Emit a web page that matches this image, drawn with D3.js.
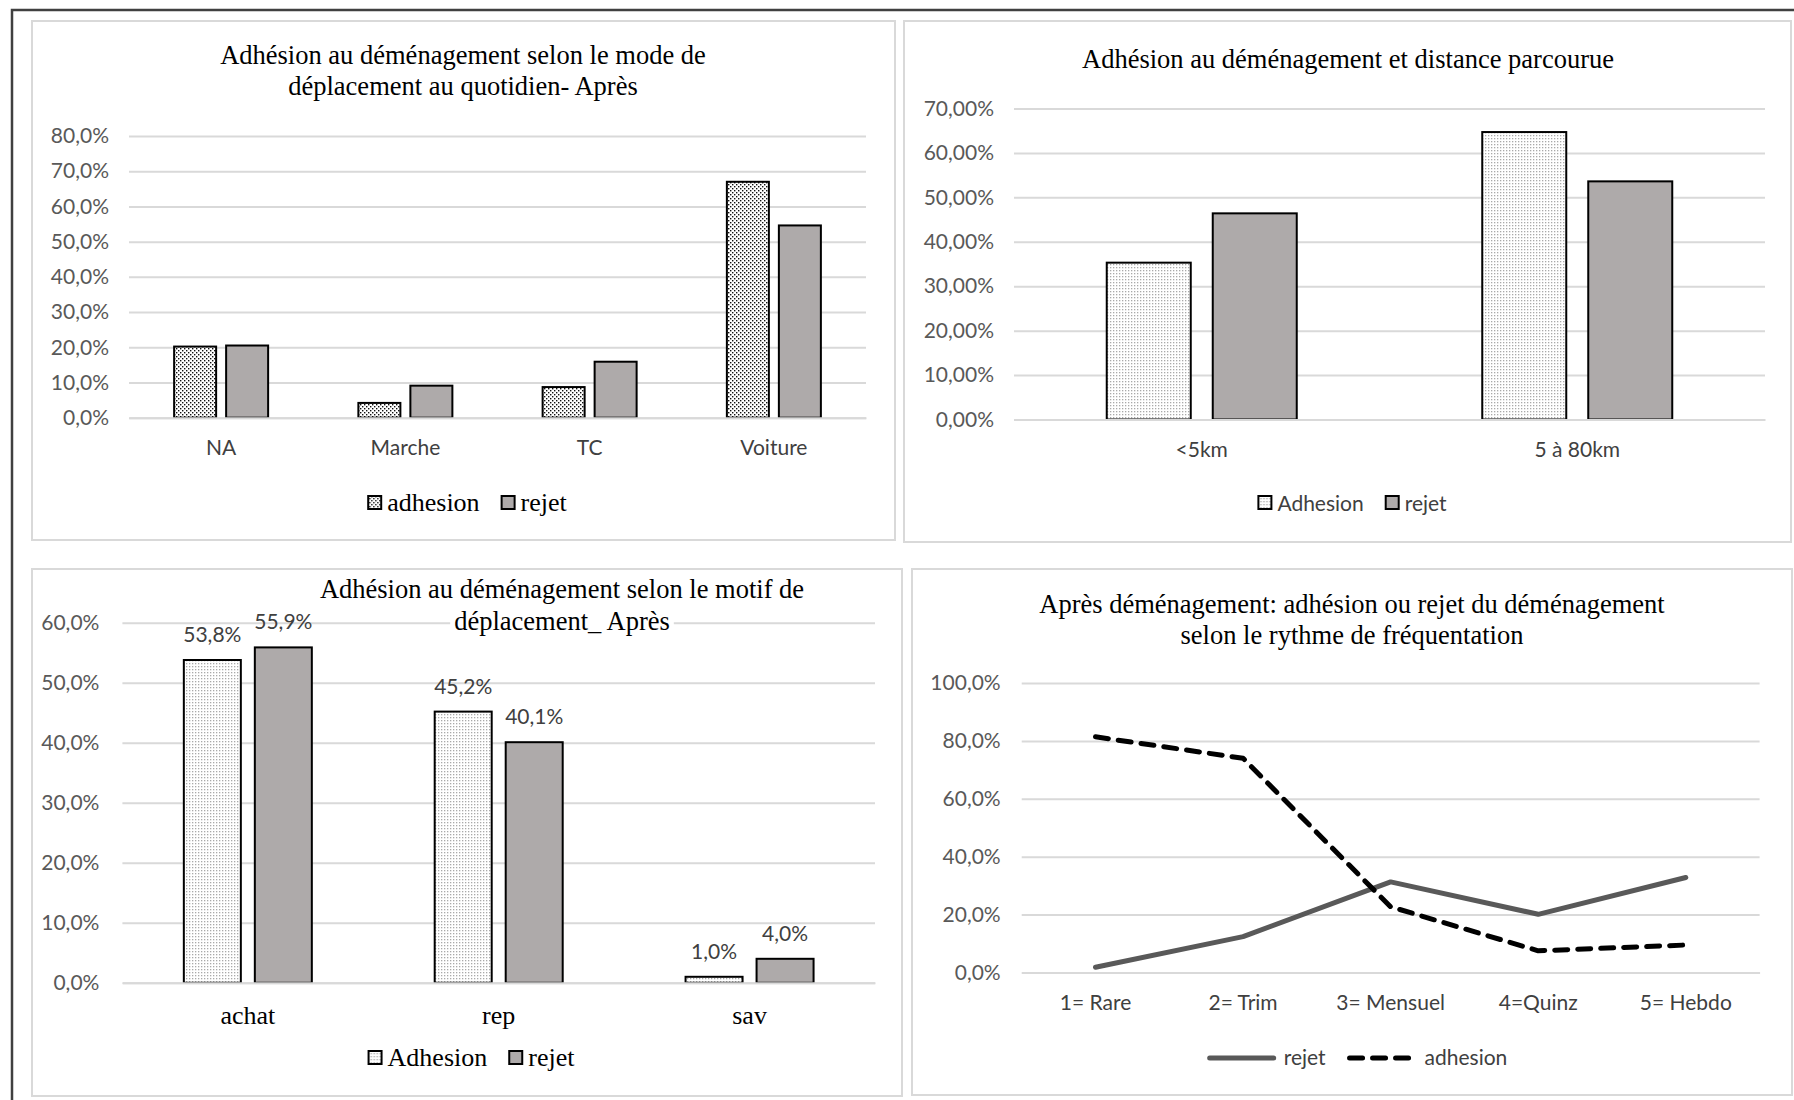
<!DOCTYPE html>
<html>
<head>
<meta charset="utf-8">
<script src="https://cdn.jsdelivr.net/npm/d3@7"></script>
<style>
  body { margin: 0; background: #fff; }
  svg text { font-family: Lato, "Liberation Sans", sans-serif; }
  svg text.serif { font-family: "Liberation Serif", "Times New Roman", serif; }
</style>
</head>
<body>
<svg width="1794" height="1100"></svg>
<script>
// --- data ---
const modes = ["NA", "Marche", "TC", "Voiture"];
const modeAdhesion = [20.2, 4.2, 8.7, 67.0];
const modeRejet = [20.5, 9.1, 15.9, 54.6];
const modeTicks = [0, 10, 20, 30, 40, 50, 60, 70, 80];

const distances = ["<5km", "5 à 80km"];
const distAdhesion = [35.3, 64.7];
const distRejet = [46.4, 53.6];
const distTicks = [0, 10, 20, 30, 40, 50, 60, 70];

const motifs = ["achat", "rep", "sav"];
const motifAdhesion = [53.8, 45.2, 1.0];
const motifRejet = [55.9, 40.1, 4.0];
const motifTicks = [0, 10, 20, 30, 40, 50, 60];

const rythmes = ["1= Rare", "2= Trim", "3= Mensuel", "4=Quinz", "5= Hebdo"];
const rythmeRejet = [1.8, 12.4, 31.3, 20.1, 32.8];
const rythmeAdhesion = [81.4, 74.0, 22.7, 7.5, 9.5];
const rythmeTicks = [0, 20, 40, 60, 80, 100];

const svg = d3.select("svg");
const defs = svg.append("defs");

// dotted fills used by Excel
const dark = defs.append("pattern").attr("id", "dotsDark")
  .attr("patternUnits", "userSpaceOnUse").attr("width", 4).attr("height", 4);
dark.append("rect").attr("width", 4).attr("height", 4).attr("fill", "#fff");
dark.append("rect").attr("width", 1.4).attr("height", 1.4).attr("fill", "#111");
dark.append("rect").attr("x", 2).attr("y", 2).attr("width", 1.4).attr("height", 1.4).attr("fill", "#111");

const light = defs.append("pattern").attr("id", "dotsLight")
  .attr("patternUnits", "userSpaceOnUse").attr("width", 3).attr("height", 3);
light.append("rect").attr("width", 3).attr("height", 3).attr("fill", "#fff");
light.append("rect").attr("width", 1.3).attr("height", 1.3).attr("fill", "#a9a9a9");

const pct1 = d => d3.format(".1f")(d).replace(".", ",") + "%";
const pct2 = d => d3.format(".2f")(d).replace(".", ",") + "%";

// outer frame
svg.append("path").attr("d", "M12,1100V10H1794")
  .attr("fill", "none").attr("stroke", "#404040").attr("stroke-width", 2.5);

function panel(x0, y0, x1, y1) {
  svg.append("rect").attr("x", x0).attr("y", y0)
    .attr("width", x1 - x0).attr("height", y1 - y0)
    .attr("fill", "#fff").attr("stroke", "#d9d9d9").attr("stroke-width", 2);
}

// title is drawn last, over a white box, like Excel does
function title(lines, cx, baselines) {
  const g = svg.append("g");
  lines.forEach((t, i) => {
    const bg = g.append("rect").attr("fill", "#fff");
    const txt = g.append("text").attr("class", "serif")
      .attr("x", cx).attr("y", baselines[i])
      .attr("text-anchor", "middle").attr("font-size", 26.5).attr("fill", "#000")
      .text(t);
    const b = txt.node().getBBox();
    bg.attr("x", b.x - 4).attr("y", b.y).attr("width", b.width + 8).attr("height", b.height);
  });
}

function yAxis(g, y, ticks, fmt, x0, x1, pad) {
  const ax = g.append("g").attr("transform", `translate(${x0},0)`)
    .call(d3.axisLeft(y).tickValues(ticks).tickFormat(fmt)
      .tickSize(-(x1 - x0)).tickPadding(pad));
  ax.select(".domain").remove();
  ax.selectAll("line").attr("stroke", "#d9d9d9").attr("stroke-width", 2);
  ax.selectAll("text").attr("fill", "#595959").attr("font-size", 21)
    .attr("font-family", "Lato, 'Liberation Sans', sans-serif");
}

function xAxis(g, x, y0, labelY, serif) {
  const ax = g.append("g").attr("transform", `translate(0,${y0})`)
    .call(d3.axisBottom(x).tickSize(0));
  ax.select(".domain").attr("stroke", "#d9d9d9").attr("stroke-width", 2);
  ax.selectAll("text")
    .attr("y", labelY - y0).attr("dy", 0)
    .attr("font-size", serif ? 26 : 21)
    .attr("fill", serif ? "#000" : "#404040")
    .attr("class", serif ? "serif" : null)
    .attr("font-family", serif ? "'Liberation Serif', serif" : "Lato, 'Liberation Sans', sans-serif");
}

function legend(items, cx, baseline, serif) {
  const g = svg.append("g");
  let cur = 0;
  items.forEach(it => {
    if (it.kind === "box") {
      g.append("rect").attr("x", cur + 1).attr("y", baseline - 15)
        .attr("width", 13).attr("height", 13)
        .attr("fill", it.fill).attr("stroke", "#000").attr("stroke-width", 2);
      cur += 20;
    } else {
      g.append("line").attr("x1", cur + 3).attr("x2", cur + it.w - 3)
        .attr("y1", baseline - 7).attr("y2", baseline - 7)
        .attr("stroke", it.color).attr("stroke-width", 5)
        .attr("stroke-linecap", "round")
        .attr("stroke-dasharray", it.dash || null);
      cur += it.w + it.after;
    }
    const t = g.append("text").attr("x", cur).attr("y", baseline)
      .attr("font-size", serif ? 26 : 21)
      .attr("fill", serif ? "#000" : "#404040")
      .attr("class", serif ? "serif" : null)
      .text(it.name);
    cur += t.node().getComputedTextLength() + 21;
  });
  const w = cur - 21;
  g.attr("transform", `translate(${cx - w / 2},0)`);
}

function barChart(o) {
  const g = svg.append("g");
  const y = d3.scaleLinear().domain([0, o.ticks[o.ticks.length - 1]]).range([o.y0, o.yTop]);
  const x = d3.scaleBand().domain(o.cats).range([o.x0, o.x1]);
  const names = o.series.map(s => s.name);
  const inner = d3.scaleBand().domain(names)
    .range([-(o.barW + o.gap / 2), o.barW + o.gap / 2])
    .paddingInner(o.gap / (o.barW + o.gap));

  yAxis(g, y, o.ticks, o.fmt, o.x0, o.x1, o.pad);

  o.series.forEach(s => {
    const rows = o.cats.map((c, i) => ({ cat: c, v: s.values[i] }));
    g.selectAll(null).data(rows).enter().append("rect")
      .attr("x", d => x(d.cat) + x.bandwidth() / 2 + inner(s.name))
      .attr("width", inner.bandwidth())
      .attr("y", d => y(d.v))
      .attr("height", d => o.y0 - y(d.v))
      .attr("fill", s.fill).attr("stroke", "#000").attr("stroke-width", 2);
    if (o.labels) {
      g.selectAll(null).data(rows).enter().append("text")
        .attr("x", d => x(d.cat) + x.bandwidth() / 2 + inner(s.name) + inner.bandwidth() / 2)
        .attr("y", d => y(d.v) - 18)
        .attr("text-anchor", "middle").attr("font-size", 21).attr("fill", "#404040")
        .text(d => pct1(d.v));
    }
  });

  xAxis(g, x, o.y0, o.labelY, o.serifX);
}

// --- panel 1: mode de déplacement ---
panel(32, 21, 895, 540);
barChart({
  cats: modes, ticks: modeTicks, fmt: pct1,
  series: [{ name: "adhesion", values: modeAdhesion, fill: "url(#dotsDark)" },
           { name: "rejet", values: modeRejet, fill: "#aeaaaa" }],
  x0: 129, x1: 866, y0: 417.7, yTop: 136, pad: 20,
  barW: 42, gap: 10, labelY: 455.5, serifX: false
});
title(["Adhésion au déménagement selon le mode de", "déplacement au quotidien- Après"], 463, [64, 95]);
legend([{ kind: "box", name: "adhesion", fill: "url(#dotsDark)" },
        { kind: "box", name: "rejet", fill: "#aeaaaa" }], 467, 511, true);

// --- panel 2: distance parcourue ---
panel(904, 21, 1791, 542);
barChart({
  cats: distances, ticks: distTicks, fmt: pct2,
  series: [{ name: "Adhesion", values: distAdhesion, fill: "url(#dotsLight)" },
           { name: "rejet", values: distRejet, fill: "#aeaaaa" }],
  x0: 1014, x1: 1765, y0: 419.5, yTop: 108.5, pad: 20,
  barW: 84, gap: 22, labelY: 456.5, serifX: false
});
title(["Adhésion au déménagement et distance parcourue"], 1348, [67.5]);
legend([{ kind: "box", name: "Adhesion", fill: "url(#dotsLight)" },
        { kind: "box", name: "rejet", fill: "#aeaaaa" }], 1352, 511, false);

// --- panel 3: motif de déplacement ---
panel(32, 569, 902, 1096);
barChart({
  cats: motifs, ticks: motifTicks, fmt: pct1,
  series: [{ name: "Adhesion", values: motifAdhesion, fill: "url(#dotsLight)" },
           { name: "rejet", values: motifRejet, fill: "#aeaaaa" }],
  x0: 122.4, x1: 875, y0: 982.8, yTop: 622.8, pad: 23,
  barW: 57, gap: 14, labelY: 1024, serifX: true, labels: true
});
title(["Adhésion au déménagement selon le motif de", "déplacement_ Après"], 562, [598, 630]);
legend([{ kind: "box", name: "Adhesion", fill: "url(#dotsLight)" },
        { kind: "box", name: "rejet", fill: "#aeaaaa" }], 471, 1066, true);

// --- panel 4: rythme de fréquentation (lines) ---
panel(912, 569, 1792, 1095);
{
  const g = svg.append("g");
  const x0 = 1021.7, x1 = 1759.6, y0 = 972.5, yTop = 683;
  const y = d3.scaleLinear().domain([0, 100]).range([y0, yTop]);
  const x = d3.scaleBand().domain(rythmes).range([x0, x1]);
  yAxis(g, y, rythmeTicks, pct1, x0, x1, 21);
  xAxis(g, x, y0, 1010, false);
  const line = d3.line()
    .x(d => x(d.cat) + x.bandwidth() / 2)
    .y(d => y(d.v));
  const rows = vals => rythmes.map((c, i) => ({ cat: c, v: vals[i] }));
  g.append("path").datum(rows(rythmeRejet)).attr("d", line)
    .attr("fill", "none").attr("stroke", "#595959").attr("stroke-width", 5)
    .attr("stroke-linejoin", "round").attr("stroke-linecap", "round");
  g.append("path").datum(rows(rythmeAdhesion)).attr("d", line)
    .attr("fill", "none").attr("stroke", "#000").attr("stroke-width", 5)
    .attr("stroke-dasharray", "13,10")
    .attr("stroke-linejoin", "round").attr("stroke-linecap", "round");
}
title(["Après déménagement: adhésion ou rejet du déménagement", "selon le rythme de fréquentation"], 1352, [613, 644]);
legend([{ kind: "line", name: "rejet", color: "#595959", w: 70, after: 7 },
        { kind: "line", name: "adhesion", color: "#000", dash: "13,10", w: 66, after: 12 }],
       1357, 1065, false);
</script>
</body>
</html>
